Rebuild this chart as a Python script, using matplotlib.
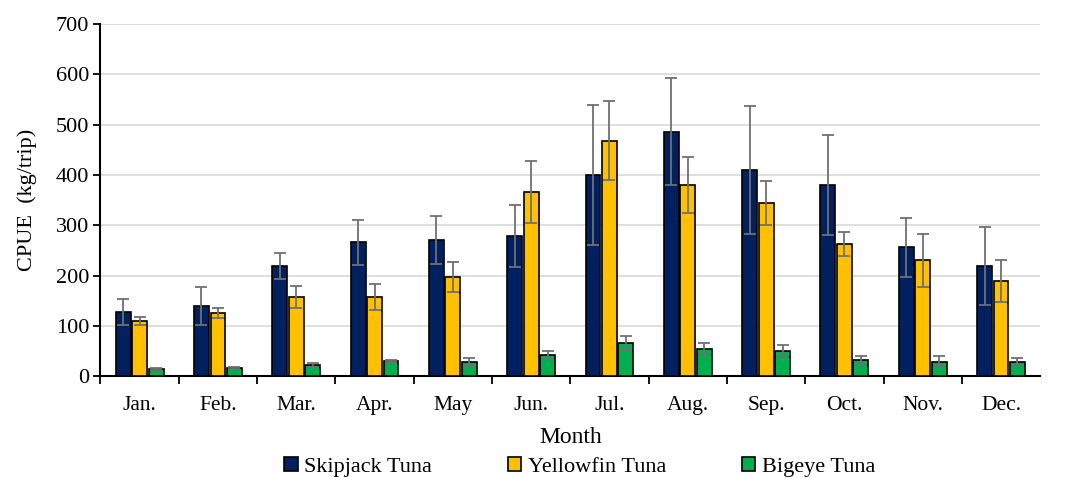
import numpy as np
import matplotlib
matplotlib.use("Agg")
from matplotlib import pyplot as plt

# monthly CPUE (kg/trip), means and error bars
months = ["Jan.", "Feb.", "Mar.", "Apr.", "May", "Jun.", "Jul.", "Aug.", "Sep.", "Oct.", "Nov.", "Dec."]
skipjack = [127, 139, 219, 266, 270, 278, 399, 486, 410, 380, 256, 219]
skipjack_err = [26, 38, 26, 45, 48, 62, 139, 107, 127, 99, 58, 78]
yellowfin = [109, 125, 157, 157, 197, 366, 468, 380, 344, 262, 230, 189]
yellowfin_err = [8, 10, 22, 26, 29, 62, 78, 56, 44, 24, 52, 42]
bigeye = [14, 16, 22, 30, 28, 43, 65, 54, 50, 32, 29, 29]
bigeye_err = [2, 2, 4, 2, 8, 7, 15, 11, 12, 8, 11, 7]

series = [("Skipjack Tuna", skipjack, skipjack_err, "#002060"),
          ("Yellowfin Tuna", yellowfin, yellowfin_err, "#FFC000"),
          ("Bigeye Tuna", bigeye, bigeye_err, "#00B050")]

plt.rcParams['font.family'] = ['Liberation Serif', 'DejaVu Serif']

fig = plt.figure(figsize=(10.69, 4.78), dpi=100)
ax = fig.add_axes([0.094, 0.213, 0.879, 0.737])

x = np.arange(len(months))
width = 0.19
offsets = [-0.21, 0.0, 0.21]
for (name, vals, errs, color), off in zip(series, offsets):
    ax.bar(x + off, vals, width, color=color, edgecolor="black", linewidth=1.2,
           label=name, zorder=3,
           yerr=errs, error_kw=dict(ecolor="#707070", elinewidth=1.3, capsize=4, capthick=1.3, zorder=4))

ax.set_xlim(-0.5, len(months) - 0.5)
ax.set_ylim(0, 700)
ax.set_yticks(range(0, 701, 100))
ax.yaxis.grid(True, color="#d9d9d9", linewidth=1.2, zorder=0)
ax.set_axisbelow(True)

# month labels centred, tick marks between the groups
ax.set_xticks(x)
ax.set_xticklabels(months, fontsize=15.5)
ax.tick_params(axis="x", length=0, pad=14)
ax.set_xticks(np.arange(-0.5, len(months) - 1, 1), minor=True)
ax.tick_params(axis="x", which="minor", length=6, width=1.3, direction="out")
ax.tick_params(axis="y", labelsize=16, length=5, width=1.3, direction="out", pad=3)

for side in ["top", "right"]:
    ax.spines[side].set_visible(False)
for side in ["left", "bottom"]:
    ax.spines[side].set_linewidth(1.5)

ax.set_xlabel("Month", fontsize=17, labelpad=9)
ax.set_ylabel("CPUE  (kg/trip)", fontsize=16, labelpad=14)

ax.legend(loc="upper center", bbox_to_anchor=(0.51, -0.197), ncol=3, frameon=False,
          fontsize=16, handlelength=0.6, handleheight=0.6, handletextpad=0.3,
          columnspacing=3.4, borderpad=0)

fig.savefig("out.png", dpi=100)
